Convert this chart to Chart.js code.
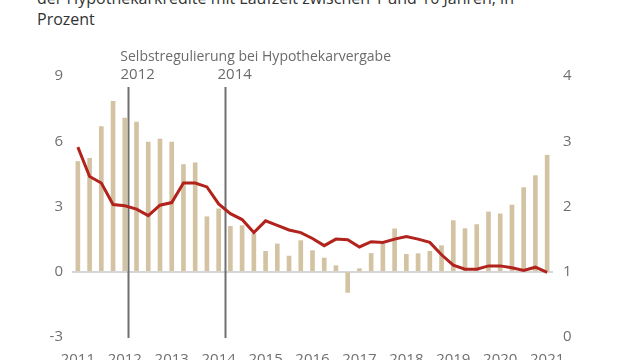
<!DOCTYPE html>
<html>
<head>
<meta charset="utf-8">
<script src="https://cdn.jsdelivr.net/npm/chart.js@4/dist/chart.umd.min.js"></script>
<style>
  html, body { margin: 0; padding: 0; background: #fff; overflow: hidden; }
  #wrap { position: relative; width: 640px; height: 360px; }
  #title {
    position: absolute; left: 37px; top: -12px;
    font-family: "Open Sans", sans-serif; font-size: 16px; line-height: 21px;
    color: #333;
  }
  canvas { position: absolute; left: 0; top: 0; }
</style>
</head>
<body>
<div id="wrap">
  <div id="title">der Hypothekarkredite mit Laufzeit zwischen 1 und 10 Jahren, in<br>Prozent</div>
  <canvas id="chart" width="640" height="360"></canvas>
</div>
<script>
// Quarterly categories, 2011 Q1 - 2021 Q1
const quarters = [
  "2011 Q1", "2011 Q2", "2011 Q3", "2011 Q4",
  "2012 Q1", "2012 Q2", "2012 Q3", "2012 Q4",
  "2013 Q1", "2013 Q2", "2013 Q3", "2013 Q4",
  "2014 Q1", "2014 Q2", "2014 Q3", "2014 Q4",
  "2015 Q1", "2015 Q2", "2015 Q3", "2015 Q4",
  "2016 Q1", "2016 Q2", "2016 Q3", "2016 Q4",
  "2017 Q1", "2017 Q2", "2017 Q3", "2017 Q4",
  "2018 Q1", "2018 Q2", "2018 Q3", "2018 Q4",
  "2019 Q1", "2019 Q2", "2019 Q3", "2019 Q4",
  "2020 Q1", "2020 Q2", "2020 Q3", "2020 Q4",
  "2021 Q1"
];

// Bars: left axis
const growth = [
  5.07, 5.22, 6.68, 7.83, 7.07, 6.88, 5.96, 6.10, 5.96, 4.93, 5.01, 2.53, 2.89,
  2.09, 2.12, 1.74, 0.94, 1.28, 0.72, 1.43, 0.97, 0.63, 0.28, -0.95, 0.14, 0.84,
  1.28, 1.97, 0.80, 0.83, 0.94, 1.20, 2.35, 1.98, 2.17, 2.75, 2.66, 3.07, 3.87,
  4.42, 5.36
];

// Line: right axis
const rate = [
  2.91, 2.46, 2.36, 2.03, 2.01, 1.96, 1.86, 2.02, 2.06, 2.36, 2.36, 2.30, 2.04,
  1.89, 1.80, 1.60, 1.78, 1.71, 1.64, 1.60, 1.51, 1.40, 1.50, 1.49, 1.38, 1.46,
  1.45, 1.50, 1.54, 1.50, 1.45, 1.26, 1.10, 1.04, 1.04, 1.09, 1.09, 1.06, 1.02,
  1.07, 0.99
];

const leftTicks = [-3, 0, 3, 6, 9];
const rightTicks = [0, 1, 2, 3, 4];

// Self-regulation markers (position as fractional category index)
const markerPos = [4.3, 12.55];
const markerLabels = ["2012", "2014"];
const markerTitle = "Selbstregulierung bei Hypothekarvergabe";

const markers = {
  id: "markers",
  beforeDatasetsDraw(chart) {
    const { ctx, scales: { x }, chartArea } = chart;
    ctx.save();
    ctx.strokeStyle = "#6e6e73";
    ctx.lineWidth = 2;
    ctx.fillStyle = "#6b6b6b";
    ctx.font = "15px 'Open Sans', sans-serif";
    ctx.textBaseline = "alphabetic";
    markerPos.forEach((p, i) => {
      const px = Math.round(x.getPixelForValue(p)) + 0.5;
      ctx.beginPath();
      ctx.moveTo(px, 87);
      ctx.lineTo(px, chartArea.bottom + 1);
      ctx.stroke();
      ctx.fillText(markerLabels[i], px - 8, 79);
    });
    ctx.font = "14px 'Open Sans', sans-serif";
    ctx.fillText(markerTitle, x.getPixelForValue(markerPos[0]) - 8, 61);
    ctx.restore();
  }
};

const tickFont = { family: "'Open Sans', sans-serif", size: 15 };

new Chart(document.getElementById("chart"), {
  data: {
    labels: quarters,
    datasets: [
      {
        type: "line",
        data: rate,
        yAxisID: "y1",
        borderColor: "#b1231c",
        borderWidth: 3,
        pointRadius: 0,
        tension: 0,
        order: 1
      },
      {
        type: "bar",
        data: growth,
        yAxisID: "y",
        backgroundColor: "#d3c3a3",
        barThickness: 4,
        order: 2
      }
    ]
  },
  options: {
    responsive: false,
    animation: false,
    layout: { padding: { top: 76, left: 0, right: 0, bottom: 0 } },
    plugins: { legend: { display: false }, tooltip: { enabled: false } },
    scales: {
      x: {
        offset: true,
        grid: { display: false },
        border: { display: false },
        ticks: {
          autoSkip: false,
          maxRotation: 0,
          padding: 6,
          color: "#707070",
          font: tickFont,
          callback: (v, i) => (i % 4 === 0 ? quarters[i].slice(0, 4) : "")
        },
        afterFit: (s) => { s.height = 23; }
      },
      y: {
        position: "left",
        min: -3,
        max: 9,
        afterBuildTicks: (s) => { s.ticks = leftTicks.map(v => ({ value: v })); },
        grid: {
          drawTicks: false,
          lineWidth: 2,
          color: (c) => (c.tick && c.tick.value === 0 ? "#d6d6d6" : "rgba(0,0,0,0)")
        },
        border: { display: false },
        ticks: { padding: 9, color: "#707070", font: tickFont },
        afterFit: (s) => { s.width = 72; }
      },
      y1: {
        position: "right",
        min: 0,
        max: 4,
        afterBuildTicks: (s) => { s.ticks = rightTicks.map(v => ({ value: v })); },
        grid: { display: false, drawTicks: false },
        border: { display: false },
        ticks: { padding: 10, color: "#707070", font: tickFont },
        afterFit: (s) => { s.width = 87; }
      }
    }
  },
  plugins: [markers]
});
</script>
</body>
</html>
